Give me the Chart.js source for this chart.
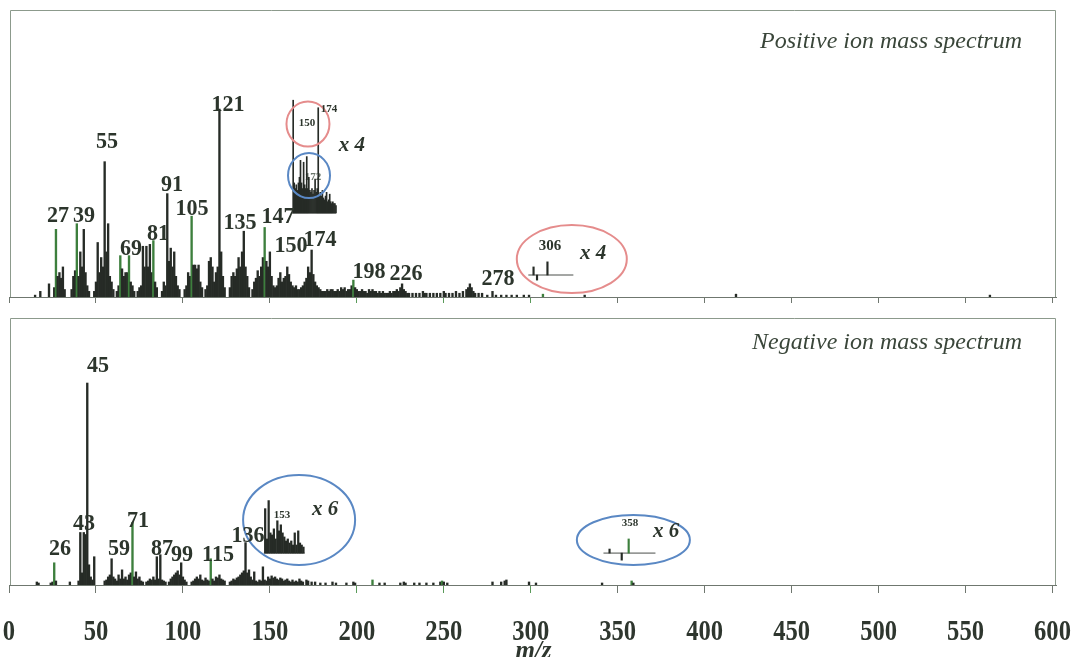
<!DOCTYPE html>
<html>
<head>
<meta charset="utf-8">
<title>Positive / negative ion mass spectra</title>
<script src="https://cdn.jsdelivr.net/npm/chart.js@4.4.1/dist/chart.umd.min.js"></script>
<style>
  html, body { margin: 0; padding: 0; background: #fff; overflow: hidden; }
  #wrap { position: relative; width: 1076px; height: 657px; overflow: hidden; }
  #posCanvas { position: absolute; left: 0; top: 0; }
  #negCanvas { position: absolute; left: 0; top: 305px; }
</style>
</head>
<body>
<div id="wrap">
  <canvas id="posCanvas" width="1076" height="305"></canvas>
  <canvas id="negCanvas" width="1076" height="370"></canvas>
</div>
<script>
// ---------- data: [m/z, relative abundance %] ----------
const mzTicks = [0, 50, 100, 150, 200, 250, 300, 350, 400, 450, 500, 550, 600];

// positive ions, m/z 121 = 100
const posPeaks = [
  [15,1],[18,3],[23,7],[26,5],[27,36],[28,11],[29,13],[30,10],[31,16],[32,4],
  [36,4],[37,11],[38,14],[39,39],[40,11],[41,24],[42,16],[43,36],[44,13],[45,6],[46,3],
  [49,3],[50,8],[51,29],[52,13],[53,21],[54,16],[55,72],[56,24],[57,39],[58,11],[59,8],[60,4],
  [62,3],[63,6],[64,22],[65,15],[66,11],[67,13],[68,13],[69,22],[70,8],[71,6],[72,3],
  [74,3],[75,5],[76,6],[77,27],[78,16],[79,27],[80,16],[81,28],[82,13],[83,30],[84,8],[85,5],
  [88,3],[89,8],[90,6],[91,55],[92,19],[93,26],[94,16],[95,24],[96,11],[97,6],[98,4],
  [101,4],[102,6],[103,13],[104,11],[105,43],[106,17],[107,17],[108,15],[109,17],[110,8],[111,5],
  [113,4],[114,6],[115,19],[116,21],[117,16],[118,8],[119,13],[120,16],[121,100],[122,24],[123,11],[124,5],
  [127,5],[128,11],[129,13],[130,11],[131,15],[132,21],[133,16],[134,24],[135,35],[136,16],[137,11],[138,5],
  [140,4],[141,8],[142,10],[143,14],[144,11],[145,16],[146,21],[147,37],[148,19],[149,16],[150,24],[151,11],[152,6],
  [153,5],[154,6],[155,10],[156,13],[157,8],[158,10],[159,11],[160,16],[161,12],[162,8],[163,6],[164,5],[165,6],[166,4],
  [167,4],[168,5],[169,6],[170,8],[171,10],[172,16],[173,13],[174,25],[175,12],[176,8],[177,6],[178,5],[179,4],[180,3],
  [181,3],[182,3],[183,4],[184,3],[185,4],[186,4],[187,3],[188,3],[189,4],[190,3],[191,5],[192,4],[193,5],[194,3],
  [195,4],[196,4],[197,6],[198,9],[199,5],[200,4],
  [201,3],[202,3],[203,4],[204,3],[205,3],[206,2],[207,4],[208,3],[209,4],[210,3],[211,3],[212,2],[213,3],[214,2],
  [215,3],[216,2],[217,2],[218,2],[219,3],[220,2],[221,3],[222,3],[223,4],[224,3],[225,5],[226,7],[227,4],[228,3],
  [229,2],[230,2],[232,2],[234,2],[236,2],[238,3],[239,2],[240,2],[242,2],[244,2],[246,2],[248,2],[250,3],[251,2],
  [253,2],[255,2],[257,3],[259,2],[261,3],[263,4],[264,5],[265,7],[266,5],[267,3],[268,2],[270,2],
  [272,2],[275,1],[278,3],[280,1],[283,1],[286,1],[289,1],[292,1],[296,1],[299,1],[307,1.5],[331,1],[418,1.5],[564,1]
];

// x4 blow-up of m/z 150-191
const posZoomPeaks = [
  [150,60],[151,16],[152,13],[153,15],[154,12],[155,16],[156,19],[157,28],[158,16],[159,13],[160,27],
  [161,15],[162,13],[163,30],[164,13],[165,19],[166,12],[167,11],[168,13],[169,10],[170,12],[171,18],
  [172,11],[173,13],[174,56],[175,10],[176,11],[177,9],[178,12],[179,8],[180,7],[181,9],[182,11],
  [183,6],[184,7],[185,10],[186,6],[187,5],[188,6],[189,5],[190,5],[191,4]
];

// x4 blow-up around m/z 306
const posHighPeaks = [[298,4.3],[300,-2.7],[306,7]];

// negative ions, m/z 45 = 100
const negPeaks = [
  [16,1.5],[17,1],[24,1],[25,1.5],[26,11],[27,2],[35,1.5],
  [40,2],[41,26],[42,6],[43,26],[44,25],[45,100],[46,10],[47,4],[48,2.5],[49,14],
  [55,2],[56,2.5],[57,4],[58,5],[59,13],[60,4],[61,3],[62,2],[63,5],[64,3],[65,7.5],[66,3],[67,4],[68,2.5],
  [69,5],[70,6],[71,31],[72,4],[73,6.5],[74,3],[75,4],[76,2],[77,1.5],
  [79,1.5],[80,2],[81,3],[82,2.5],[83,4],[84,2.5],[85,14],[86,3],[87,15],[88,2.5],[89,2],[90,1.5],
  [92,1.5],[93,3],[94,4],[95,5],[96,6],[97,7],[98,5],[99,11],[100,4],[101,2.5],[102,1.5],
  [105,1.5],[106,2],[107,3],[108,4],[109,3],[110,5],[111,2.5],[112,2],[113,3.5],[114,2.5],[115,2],[116,13],
  [117,3],[118,2],[119,4],[120,3.5],[121,5],[122,3],[123,2.5],[124,2],
  [127,1.5],[128,2],[129,3],[130,2.5],[131,3.5],[132,4],[133,5],[134,6],[135,7],[136,21],[137,6],[138,7.5],
  [139,4],[140,2.5],[141,6.5],[142,2],[143,1.5],[144,2.5],[145,2],[146,9],[147,2.5],[148,2],[149,4],[150,3],
  [151,4.5],[152,3.5],[153,4],[154,3],[155,2.5],[156,3.5],[157,3],[158,2],[159,2.5],[160,3],[161,2],[162,1.5],
  [163,2.5],[164,1.5],[165,2],[166,1.5],[167,3],[168,2],[169,1.5],[171,2.5],[172,2],[174,1.5],[176,1.5],
  [179,1],[182,1],[186,1.5],[188,1],[194,1],[198,1.5],[199,1],[209,2.5],[213,1],[216,1],[225,1],[227,1.5],
  [228,1],[233,1],[236,1],[240,1],[244,1],[248,1.5],[249,2],[250,1.5],[252,1],[278,1.5],[283,1.5],[285,2],
  [286,2.5],[299,1.5],[303,1],[341,1],[358,2],[359,1]
];

// x6 blow-up of m/z 146-168
const negZoomPeaks = [
  [146,22],[147,7],[148,26],[149,10],[150,9],[151,12],[152,7],[153,16],[154,11],[155,14],[156,10],
  [157,8],[158,6],[159,7],[160,5],[161,6],[162,4],[163,10],[164,4],[165,11],[166,5],[167,4],[168,3]
];

// x6 blow-up around m/z 358
const negHighPeaks = [[347,2],[354,-3.5],[358,7]];

// ---------- placement of the blow-ups (axis units) ----------
const POS_ZOOM = { mz0: 150, x0: 163.4, k: 0.6, base: 44.7, from: 162.3, to: 188.1, width: 1.0 };
const POS_HIGH = { mz0: 306, x0: 309.6, k: 1, base: 11.7, from: 298.6, to: 324.5, width: 1.5 };
const NEG_ZOOM = { mz0: 146, x0: 147.3, k: 1, base: 15.8, from: 146.5, to: 170.0, width: 1.6 };
const NEG_HIGH = { mz0: 358, x0: 356.3, k: 1, base: 15.8, from: 341.8, to: 371.7, width: 1.5 };

// ---------- styles ----------
const INK = "#262b26";
const INK_GREEN = "#3d7f3d";
const TEXT_INK = "#2c352c";
const FRAME = "#8c9a8c";
const AXIS = "#6f776f";
const RING_RED = "#e58c8c";
const RING_BLUE = "#5a88c4";
const SERIF = "'Liberation Serif', 'Times New Roman', serif";

const posGreen = new Set([27, 39, 64, 69, 83, 105, 147, 198, 307]);
const negGreen = new Set([26, 71, 116, 209, 249, 358]);

// annotations: [text, x, y, kind]
const posNotes = [
  ["27", 28.2, 39.9, "peak"], ["39", 43.1, 39.9, "peak"], ["55", 56.4, 79.3, "peak"],
  ["69", 70.2, 22.3, "peak"], ["81", 85.7, 30.3, "peak"], ["91", 93.7, 56.4, "peak"],
  ["105", 105.2, 43.6, "peak"], ["121", 125.9, 98.9, "peak"], ["135", 132.8, 36.2, "peak"],
  ["147", 154.7, 39.4, "peak"], ["150", 162.2, 23.9, "peak"], ["174", 178.8, 27.1, "peak"],
  ["198", 207.0, 10.1, "peak"], ["226", 228.3, 9.0, "peak"], ["278", 281.2, 6.4, "peak"],
  ["150", 171.4, 91.0, "tiny"], ["174", 184.0, 98.4, "tiny"],
  ["306", 311.1, 25.0, "mid"],
  ["x 4", 197.2, 77.7, "mult"], ["x 4", 335.8, 20.2, "mult"]
];
const posHidden = [["172", 174.8, 62.2, "tiny"]];
const negNotes = [
  ["45", 51.2, 105.4, "peak"], ["43", 43.1, 27.2, "peak"], ["26", 29.3, 14.9, "peak"],
  ["59", 63.3, 14.9, "peak"], ["71", 74.2, 28.7, "peak"], ["87", 88.0, 14.9, "peak"],
  ["99", 99.5, 11.9, "peak"], ["115", 120.2, 11.9, "peak"], ["136", 137.4, 21.3, "peak"],
  ["153", 157.0, 33.2, "tiny"], ["358", 357.1, 29.2, "tiny"],
  ["x 6", 181.7, 34.7, "mult"], ["x 6", 377.8, 23.8, "mult"]
];

// rings: [x, y, rx(px), ry(px), colour]
const posRings = [
  [171.9, 92.0, 21.5, 22.5, RING_RED],
  [172.5, 64.6, 21, 22.5, RING_BLUE],
  [323.6, 20.2, 55, 34, RING_RED]
];
const negRings = [
  [166.8, 32.2, 56, 45, RING_BLUE],
  [359.0, 22.3, 56.5, 25, RING_BLUE]
];

const NOTE_FONTS = {
  peak: { font: "bold 24px " + SERIF, squeeze: 0.92 },
  mid:  { font: "bold 15px " + SERIF, squeeze: 1 },
  tiny: { font: "bold 11px " + SERIF, squeeze: 1 },
  mult: { font: "italic bold 21px " + SERIF, squeeze: 1 },
  tick: { font: "bold 30px " + SERIF, squeeze: 0.82 },
  axis: { font: "italic bold 25px " + SERIF, squeeze: 1 }
};

// ---------- dataset helpers ----------
function stickBars(peaks, greenSet) {
  return {
    type: "bar",
    data: peaks.map(([mz, v]) => ({ x: mz, y: v })),
    backgroundColor: ctx => (ctx.raw && greenSet.has(ctx.raw.x)) ? INK_GREEN : INK,
    barThickness: 1.7,
    grouped: false
  };
}

function blowUpBars(peaks, place, greenSet) {
  return {
    type: "bar",
    data: peaks.map(([mz, v]) => ({
      x: place.x0 + (mz - place.mz0) * place.k,
      y: [place.base, place.base + v],
      mz: mz
    })),
    backgroundColor: ctx => (ctx.raw && greenSet.has(ctx.raw.mz)) ? INK_GREEN : INK,
    barThickness: place.width,
    grouped: false
  };
}

function blowUpBaseline(place) {
  return {
    type: "line",
    data: [{ x: place.from, y: place.base }, { x: place.to, y: place.base }],
    borderColor: "#4a4f4a",
    borderWidth: 1,
    pointRadius: 0
  };
}

function drawNote(ctx, text, x, y, kind, color) {
  const f = NOTE_FONTS[kind];
  ctx.save();
  ctx.font = f.font;
  ctx.fillStyle = color;
  ctx.textAlign = "center";
  ctx.textBaseline = "alphabetic";
  ctx.translate(x, y);
  ctx.scale(f.squeeze, 1);
  ctx.fillText(text, 0, 0);
  ctx.restore();
}

// frame, panel title, labels, rings and (bottom panel only) the m/z axis text
const spectrumDecor = {
  id: "spectrumDecor",
  beforeDatasetsDraw(chart, args, opts) {
    const { ctx, scales: { x, y } } = chart;
    (opts.hidden || []).forEach(([t, vx, vy, kind]) => {
      drawNote(ctx, t, x.getPixelForValue(vx), y.getPixelForValue(vy), kind, "#6a756a");
    });
  },
  afterDatasetsDraw(chart, args, opts) {
    const { ctx, chartArea: a, scales: { x, y } } = chart;

    // open frame: left, top, right
    ctx.save();
    ctx.strokeStyle = FRAME;
    ctx.lineWidth = 1;
    ctx.beginPath();
    ctx.moveTo(a.left + 1.5, a.bottom);
    ctx.lineTo(a.left + 1.5, a.top + 0.5);
    ctx.lineTo(a.right - 0.5, a.top + 0.5);
    ctx.lineTo(a.right - 0.5, a.bottom);
    ctx.stroke();
    ctx.restore();

    // panel title
    ctx.save();
    ctx.font = "italic 24px " + SERIF;
    ctx.fillStyle = "#3a463a";
    ctx.textAlign = "right";
    ctx.fillText(opts.title, a.right - 34, a.top + opts.titleDrop);
    ctx.restore();

    opts.rings.forEach(([vx, vy, rx, ry, color]) => {
      ctx.save();
      ctx.strokeStyle = color;
      ctx.lineWidth = 2;
      ctx.beginPath();
      ctx.ellipse(x.getPixelForValue(vx), y.getPixelForValue(vy), rx, ry, 0, 0, Math.PI * 2);
      ctx.stroke();
      ctx.restore();
    });

    opts.notes.forEach(([t, vx, vy, kind]) => {
      drawNote(ctx, t, x.getPixelForValue(vx), y.getPixelForValue(vy), kind, TEXT_INK);
    });

    // tall condensed tick numbers under the shared m/z axis
    if (opts.tickLabels) {
      x.ticks.forEach(t => {
        drawNote(ctx, String(t.value), x.getPixelForValue(t.value), a.bottom + 55, "tick", "#2e362e");
      });
      drawNote(ctx, "m/z", (a.left + a.right) / 2 + 1, a.bottom + 73, "axis", "#2e362e");
    }
  }
};

function tickColor(ctx) {
  const v = ctx.tick ? ctx.tick.value : null;
  return (v === 200 || v === 250 || v === 300) ? "#5a9a5a" : AXIS;
}

function xScale(tickLength) {
  return {
    type: "linear",
    min: 0,
    max: 602,
    offset: false,
    afterBuildTicks: scale => { scale.ticks = mzTicks.map(v => ({ value: v })); },
    ticks: { display: false },
    grid: {
      offset: false,
      drawOnChartArea: false,
      drawTicks: true,
      tickLength: tickLength,
      color: tickColor
    },
    border: { display: true, color: AXIS, width: 1 }
  };
}

function buildChart(canvasId, datasets, yMax, padding, tickLength, decor) {
  return new Chart(document.getElementById(canvasId), {
    data: { datasets },
    options: {
      responsive: false,
      animation: false,
      events: [],
      layout: { padding },
      scales: {
        x: xScale(tickLength),
        y: { display: false, min: 0, max: yMax }
      },
      plugins: {
        legend: { display: false },
        tooltip: { enabled: false },
        spectrumDecor: decor
      }
    },
    plugins: [spectrumDecor]
  });
}

// ---------- draw ----------
buildChart("posCanvas", [
  stickBars(posPeaks, posGreen),
  blowUpBars(posZoomPeaks, POS_ZOOM, posGreen),
  blowUpBaseline(POS_ZOOM),
  blowUpBars(posHighPeaks, POS_HIGH, posGreen),
  blowUpBaseline(POS_HIGH)
], 152.7, { left: 9, right: 20, top: 10, bottom: 2 }, 6, {
  title: "Positive ion mass spectrum", titleDrop: 38,
  notes: posNotes, hidden: posHidden, rings: posRings, tickLabels: false
});

buildChart("negCanvas", [
  stickBars(negPeaks, negGreen),
  blowUpBars(negZoomPeaks, NEG_ZOOM, negGreen),
  blowUpBaseline(NEG_ZOOM),
  blowUpBars(negHighPeaks, NEG_HIGH, negGreen),
  blowUpBaseline(NEG_HIGH)
], 132.2, { left: 9, right: 20, top: 13, bottom: 82 }, 8, {
  title: "Negative ion mass spectrum", titleDrop: 31,
  notes: negNotes, hidden: [], rings: negRings, tickLabels: true
});
</script>
</body>
</html>
